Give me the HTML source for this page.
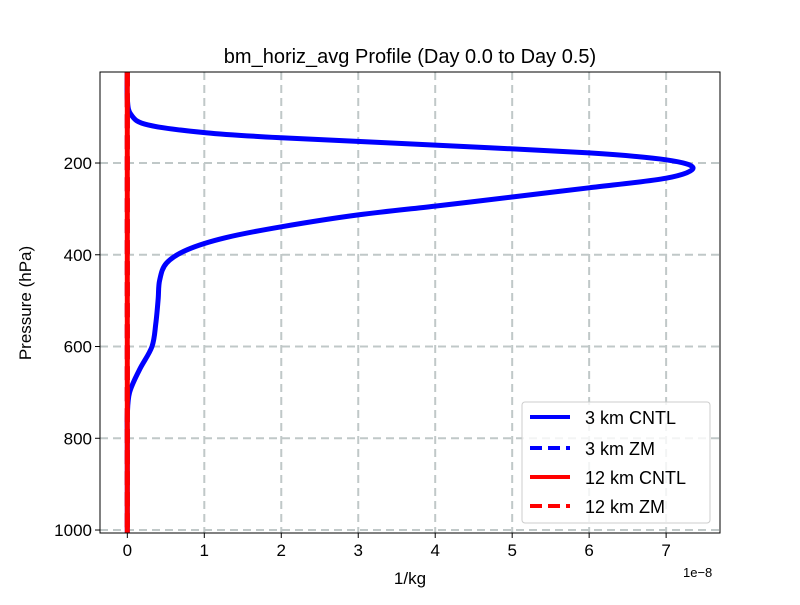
<!DOCTYPE html>
<html><head><meta charset="utf-8"><style>
body{margin:0;background:#fff;}
svg{font-family:"Liberation Sans","DejaVu Sans",sans-serif;}
</style></head><body>
<svg id="chart" width="800" height="600" viewBox="0 0 800 600">
<rect width="800" height="600" fill="#fff"/>
<text x="410" y="63" font-size="20" text-anchor="middle">bm_horiz_avg Profile (Day 0.0 to Day 0.5)</text>
<g id="grid"></g>
<g id="series"></g>
<rect x="100" y="72" width="620" height="461" fill="none" stroke="#000" stroke-width="1"/>
<g id="axes"></g>
<text x="410" y="584" font-size="17" text-anchor="middle">1/kg</text>
<text x="683" y="577" font-size="13">1e−8</text>
<text transform="translate(31,303) rotate(-90)" font-size="17" text-anchor="middle">Pressure (hPa)</text>
<g>
<rect x="522" y="402" width="188" height="121" rx="3" fill="#fff" fill-opacity="0.8" stroke="#ccc"/>
<line x1="530" y1="417" x2="570" y2="417" stroke="#0000ff" stroke-width="4"/>
<text x="585" y="424" font-size="18">3 km CNTL</text>
<line x1="530" y1="448" x2="570" y2="448" stroke="#0000ff" stroke-width="4" stroke-dasharray="12 6"/>
<text x="585" y="455" font-size="18">3 km ZM</text>
<line x1="530" y1="477" x2="570" y2="477" stroke="#ff0000" stroke-width="4"/>
<text x="585" y="484" font-size="18">12 km CNTL</text>
<line x1="530" y1="506" x2="570" y2="506" stroke="#ff0000" stroke-width="4" stroke-dasharray="12 6"/>
<text x="585" y="513" font-size="18">12 km ZM</text>
</g>
</svg>
<script>
const pressure = [2,60,95,117,134,145,161,178,193,211,233,254,274,294,313,339,363,389,418,455,498,550,600,650,700,750,800,900,1006];
const cntl3km = [0,0,0.05,0.27,1.02,2.0,4.0,6.0,7.0,7.35,7.0,6.0,5.0,4.0,3.0,2.0,1.27,0.78,0.51,0.42,0.40,0.37,0.32,0.16,0.03,0,0,0,0];
const zm3km = [0,0,0,0,0,0,0,0,0,0,0,0,0,0,0,0,0,0,0,0,0,0,0,0,0,0,0,0,0];
const cntl12km = [0,0,0,0,0,0,0,0,0,0,0,0,0,0,0,0,0,0,0,0,0,0,0,0,0,0,0,0,0];
const zm12km = [0,0,0,0,0,0,0,0,0,0,0,0,0,0,0,0,0,0,0,0,0,0,0,0,0,0,0,0,0];
const xTicks = [0,1,2,3,4,5,6,7];
const yTicks = [200,400,600,800,1000];
const NS="http://www.w3.org/2000/svg";
const X0=100,X1=720,Y0=72,Y1=533, xmin=-0.355, xmax=7.70, pmin=1.6, pmax=1006.5;
function sx(v){return X0+(v-xmin)/(xmax-xmin)*(X1-X0);}
function sy(p){return Y0+(p-pmin)/(pmax-pmin)*(Y1-Y0);}
const grid=document.getElementById('grid'), axes=document.getElementById('axes'), ser=document.getElementById('series');
function mk(tag,attrs,parent){const e=document.createElementNS(NS,tag);for(const k in attrs)e.setAttribute(k,attrs[k]);parent.appendChild(e);return e;}
xTicks.forEach(t=>{
  const g=mk('line',{x1:sx(t),x2:sx(t),y1:Y0,y2:Y1,stroke:'#c0c8c8',"stroke-width":2,"stroke-dasharray":"8 5"},grid);
  
  
  const tk=mk('line',{x1:sx(t),x2:sx(t),y1:Y1,y2:Y1+5,stroke:'#000'},axes);
  
  
  const tx=mk('text',{x:sx(t),y:Y1+23,"font-size":17,"text-anchor":"middle"},axes);
  tx.textContent=t;
  
  
});
yTicks.forEach(t=>{
  const g=mk('line',{x1:X0,x2:X1,y1:sy(t),y2:sy(t),stroke:'#c0c8c8',"stroke-width":2,"stroke-dasharray":"8 5"},grid);
  
  
  const tk=mk('line',{x1:X0-5,x2:X0,y1:sy(t),y2:sy(t),stroke:'#000'},axes);
  
  
  const tx=mk('text',{x:X0-8,y:sy(t)+6,"font-size":17,"text-anchor":"end"},axes);
  tx.textContent=t;
  
  
});
function smoothPath(pts){
  let d='M'+pts[0][0].toFixed(1)+','+pts[0][1].toFixed(1);
  for(let i=0;i<pts.length-1;i++){
    const p0=pts[Math.max(0,i-1)],p1=pts[i],p2=pts[i+1],p3=pts[Math.min(pts.length-1,i+2)];
    const c1x=p1[0]+(p2[0]-p0[0])/6,c1y=p1[1]+(p2[1]-p0[1])/6;
    const c2x=p2[0]-(p3[0]-p1[0])/6,c2y=p2[1]-(p3[1]-p1[1])/6;
    d+=' C'+c1x.toFixed(1)+','+c1y.toFixed(1)+' '+c2x.toFixed(1)+','+c2y.toFixed(1)+' '+p2[0].toFixed(1)+','+p2[1].toFixed(1);
  }
  return d;
}
function line(vals,color,dash,name){
  const pts=vals.map((v,i)=>[sx(v),sy(pressure[i])]);
  const attrs={d:smoothPath(pts),fill:'none',stroke:color,"stroke-width":5,"stroke-linejoin":"round"};
  if(dash)attrs["stroke-dasharray"]=dash;
  const e=mk('path',attrs,ser);
  
  
}
line(cntl3km,'#0000ff',null,'series-3km-cntl');
line(zm3km,'#0000ff','14 7','series-3km-zm');
line(cntl12km,'#ff0000',null,'series-12km-cntl');
line(zm12km,'#ff0000','14 7','series-12km-zm');
</script>
</body></html>
